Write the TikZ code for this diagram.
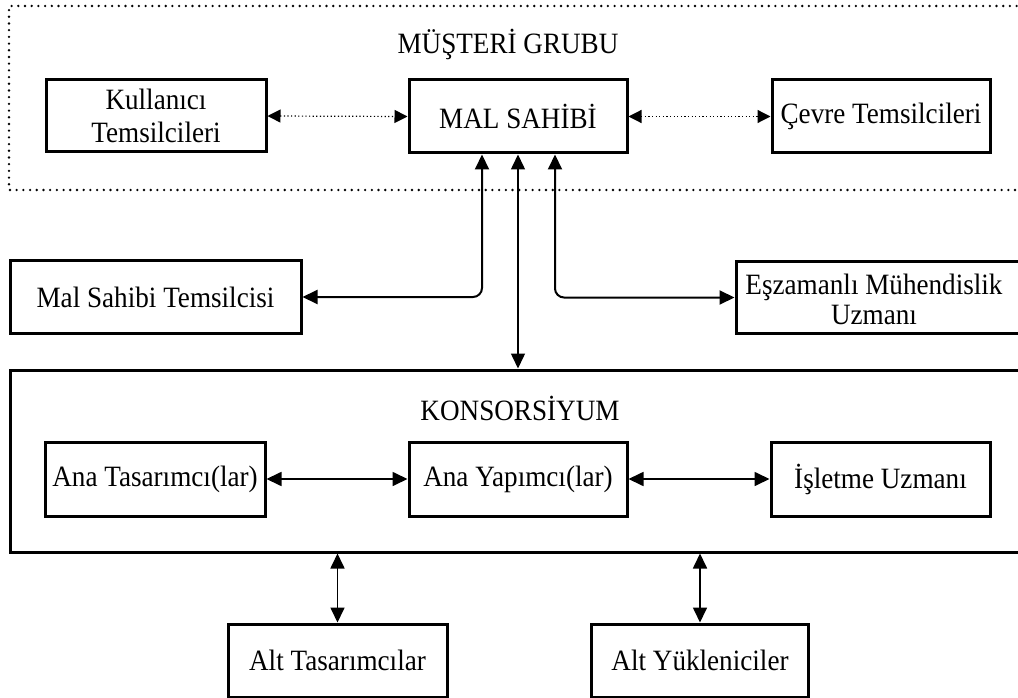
\documentclass[tikz,border=0pt]{standalone}
\usepackage{fontspec}
\setmainfont{Liberation Serif}[FakeStretch=0.92]
\usetikzlibrary{arrows.meta}
\begin{document}
\begin{tikzpicture}[x=1pt,y=-1pt,
  every node/.style={font=\fontsize{29.5}{33}\selectfont, inner sep=0pt, align=center},
  box/.style={draw, line width=3pt},
  tip/.tip={Triangle[length=15pt,width=14pt]},
  arr/.style={tip-tip, line width=1.7pt},
  elbow/.style={tip-tip, line width=2pt, rounded corners=9pt},
  dotarr/.style={{Triangle[length=13pt,width=13pt]}-{Triangle[length=13pt,width=13pt]}, line width=1.2pt, dash pattern=on 1.2pt off 2.4pt},
  frame/.style={line width=2.6pt, dash pattern=on 0pt off 6.7pt, line cap=round}]
\useasboundingbox (0,0) rectangle (1018,698);
\clip (0,0) rectangle (1018,698);
% customer group frame
\coordinate (g1) at (1030,6);
\coordinate (g2) at (9,6);
\coordinate (g3) at (9,190);
\coordinate (g4) at (1030,190);
\draw[frame] (g1) -- (g2) -- (g3) -- (g4);
\node (mg) at (508,44) {MÜŞTERİ GRUBU};
\node[box, minimum width=220pt, minimum height=72pt] (kul) at (156,116) {Kullanıcı\\Temsilcileri};
\node[box, minimum width=218pt, minimum height=73pt] (mal) at (518,116.5) {MAL SAHİBİ};
\node[box, minimum width=218pt, minimum height=73pt] (cev) at (881,116.5) {Çevre Temsilcileri};
\draw[dotarr] (kul.east) -- (mal.west);
\draw[dotarr] (mal.east) -- (cev.west);
% middle
\node[box, minimum width=291pt, minimum height=73pt] (mst) at (155.5,297) {Mal Sahibi Temsilcisi};
\node[box, minimum width=294pt, minimum height=72pt] (esz) at (883,297.5) {};
\node[font=\fontsize{29.5}{30}\selectfont] (eszt) at (874,299) {Eşzamanlı Mühendislik\\Uzmanı};
% consortium
\node[box, minimum width=1020pt, minimum height=182pt] (kons) at (520,461) {};
\node (kt) at (520,408) {KONSORSİYUM};
\node[box, minimum width=220pt, minimum height=74pt] (at) at (155,479) {Ana Tasarımcı(lar)};
\node[box, minimum width=218pt, minimum height=74pt] (ay) at (518,479) {Ana Yapımcı(lar)};
\node[box, minimum width=219pt, minimum height=74pt] (isl) at (880.5,479) {İşletme Uzmanı};
\node[box, minimum width=219pt, minimum height=73pt] (alt1) at (337.5,660.5) {Alt Tasarımcılar};
\node[box, minimum width=217pt, minimum height=73pt] (alt2) at (700,660.5) {Alt Yükleniciler};
% connectors
\draw[elbow] (mst.east) -| ([xshift=-36pt]mal.south);
\draw[elbow] (esz.west) -| ([xshift=37pt]mal.south);
\draw[arr, line width=1.5pt] (mal.south) -- (mal.south |- kons.north);
\draw[arr] (at.east) -- (ay.west);
\draw[arr] (ay.east) -- (isl.west);
\draw[arr] (alt1.north |- kons.south) -- (alt1.north);
\draw[arr] (alt2.north |- kons.south) -- (alt2.north);
\end{tikzpicture}
\end{document}
